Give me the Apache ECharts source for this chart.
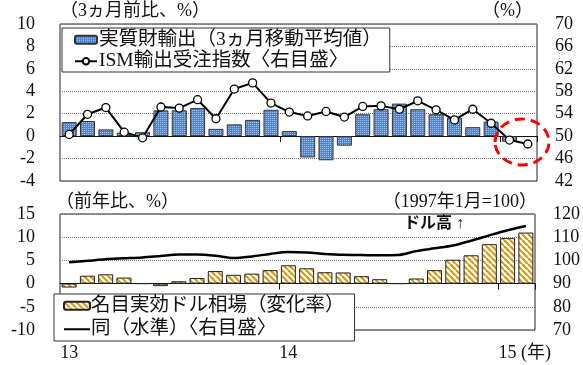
<!DOCTYPE html>
<html>
<head>
<meta charset="utf-8">
<script src="https://cdn.jsdelivr.net/npm/echarts@6/dist/echarts.min.js"></script>
<style>
  html, body { margin: 0; padding: 0; background: #fff; }
  #chart { width: 583px; height: 365px; }
</style>
</head>
<body>
<div id="chart"></div>
<script>
// months 2013-01 .. 2015-02
var months = [];
for (var y = 2013; y <= 2015; y++) {
    for (var m = 1; m <= 12; m++) {
        if (y === 2015 && m > 2) break;
        months.push(y + '-' + (m < 10 ? '0' + m : m));
    }
}
var yearLabels = ['13', '14', '15'];

// 上段
var realExports = [1.25, 1.35, 0.6, 0.3, 0.35, 2.3, 2.3, 2.5, 0.65, 1.05, 1.45, 2.35, 0.45,
    -1.9, -2.15, -0.85, 1.95, 2.4, 2.9, 2.4, 1.95, 1.65, 0.8, 1.3, -0.5, null];
var ismExport = [50.3, 53.9, 55.1, 50.7, 49.7, 55.2, 55.0, 56.5, 53.1, 58.4, 59.5, 55.9, 54.3,
    53.6, 54.4, 53.4, 55.3, 55.4, 54.8, 56.3, 54.7, 52.9, 54.8, 52.3, 49.3, 48.6];

// 下段
var dollarYoY = [-0.85, 1.7, 2.0, 1.3, 0, -0.55, 0.5, 1.2, 2.7, 1.9, 2.15, 2.9, 3.95,
    3.3, 2.45, 2.4, 1.6, 0.95, 0, 1.1, 2.9, 5.15, 6.1, 8.5, 9.8, 11.0];
var dollarLevel = [99.2, 99.8, 100.5, 100.9, 101.3, 101.9, 102.5, 102.5, 102.0, 101.0, 101.7, 102.8, 103.6,
    103.4, 102.8, 102.4, 102.3, 102.2, 102.3, 104.0, 105.2, 106.4, 108.5, 110.8, 113.0, 114.8];

var serif = '"Liberation Serif", "Noto Sans CJK JP", serif';

function makeHatch() {
    var c = document.createElement('canvas');
    c.width = 6; c.height = 6;
    var ctx = c.getContext('2d');
    ctx.fillStyle = '#fff';
    ctx.fillRect(0, 0, 6, 6);
    ctx.strokeStyle = '#D49B12';
    ctx.lineWidth = 2.2;
    [-6, 0, 6].forEach(function (o) {
        ctx.beginPath();
        ctx.moveTo(o, 0);
        ctx.lineTo(o + 6, 6);
        ctx.stroke();
    });
    return c;
}
function makeDots() {
    var c = document.createElement('canvas');
    c.width = 2; c.height = 2;
    var ctx = c.getContext('2d');
    ctx.fillStyle = '#4F84CF';
    ctx.fillRect(0, 0, 2, 2);
    ctx.fillStyle = '#A3C4EF';
    ctx.fillRect(0, 0, 1, 1);
    return c;
}

var chart = echarts.init(document.getElementById('chart'));

function yearTick(index) {
    return index === 12 || index === 24;
}

var option = {
    animation: false,
    backgroundColor: '#fff',
    grid: [
        { left: 60, right: 46, top: 24, height: 157, show: true, borderColor: '#222', borderWidth: 1 },
        { left: 60, right: 46, top: 214, height: 116, show: true, borderColor: '#222', borderWidth: 1 }
    ],
    xAxis: [
        {
            type: 'category', gridIndex: 0, data: months,
            axisLine: { onZero: true, lineStyle: { color: '#111', width: 1 } },
            axisTick: { show: true, interval: yearTick, length: 6, lineStyle: { color: '#111' } },
            axisLabel: { show: false }
        },
        {
            type: 'category', gridIndex: 1, data: months,
            axisLine: { onZero: true, lineStyle: { color: '#111', width: 1 } },
            axisTick: { show: true, interval: yearTick, length: 6, lineStyle: { color: '#111' } },
            axisLabel: { show: false }
        },
        {
            type: 'category', gridIndex: 1, data: months, position: 'bottom',
            axisLine: { show: false, onZero: false },
            axisTick: { show: false },
            axisLabel: {
                interval: 0, margin: 14, fontFamily: serif, fontSize: 18, color: '#111',
                formatter: function (v, i) { return i % 12 === 0 ? yearLabels[i / 12] : ''; }
            }
        }
    ],
    yAxis: [
        {
            type: 'value', gridIndex: 0, min: -4, max: 10, interval: 2,
            axisLine: { show: false }, axisTick: { show: false },
            axisLabel: { margin: 25, fontFamily: serif, fontSize: 18, color: '#111' },
            splitLine: { lineStyle: { color: '#777', type: 'dotted', width: 1 } }
        },
        {
            type: 'value', gridIndex: 0, min: 42, max: 70, interval: 2, position: 'right',
            axisLine: { show: false }, axisTick: { show: false }, splitLine: { show: false },
            axisLabel: {
                margin: 18, fontFamily: serif, fontSize: 18, color: '#111',
                formatter: function (v) { return (v - 42) % 4 === 0 ? String(v) : ''; }
            }
        },
        {
            type: 'value', gridIndex: 1, min: -10, max: 15, interval: 5,
            axisLine: { show: false }, axisTick: { show: false },
            axisLabel: { margin: 25, fontFamily: serif, fontSize: 18, color: '#111' },
            splitLine: { lineStyle: { color: '#777', type: 'dotted', width: 1 } }
        },
        {
            type: 'value', gridIndex: 1, min: 70, max: 120, interval: 10, position: 'right',
            axisLine: { show: false }, axisTick: { show: false }, splitLine: { show: false },
            axisLabel: { margin: 18, fontFamily: serif, fontSize: 18, color: '#111' }
        }
    ],
    legend: [
        {
            orient: 'vertical', left: 62, top: 28,
            data: ['実質財輸出（3ヵ月移動平均値）', 'ISM輸出受注指数〈右目盛〉'],
            backgroundColor: '#fff', borderColor: '#333', borderWidth: 1,
            padding: [2, 8, 1, 12], itemGap: 2, itemWidth: 22, itemHeight: 8,
            textStyle: { fontFamily: serif, fontSize: 19.5, color: '#111', padding: [0, 0, 0, -3] }
        },
        {
            orient: 'vertical', left: 54, top: 294,
            data: [
                '名目実効ドル相場（変化率）',
                { name: '同（水準）〈右目盛〉', itemStyle: { opacity: 0 } }
            ],
            backgroundColor: '#fff', borderColor: '#333', borderWidth: 1,
            padding: [2, 10, 2, 9], itemGap: 4, itemWidth: 26, itemHeight: 8,
            textStyle: { fontFamily: serif, fontSize: 19.5, color: '#111', padding: [0, 0, 0, -4] }
        }
    ],
    series: [
        {
            name: '実質財輸出（3ヵ月移動平均値）', type: 'bar',
            xAxisIndex: 0, yAxisIndex: 0, data: realExports,
            barWidth: 15,
            itemStyle: { color: { image: makeDots(), repeat: 'repeat' }, borderColor: '#333', borderWidth: 1 }
        },
        {
            name: 'ISM輸出受注指数〈右目盛〉', type: 'line',
            xAxisIndex: 0, yAxisIndex: 1, data: ismExport,
            symbol: 'circle', symbolSize: 8,
            lineStyle: { color: '#000', width: 2 },
            itemStyle: { color: '#fff', borderColor: '#000', borderWidth: 1.3 },
            z: 3
        },
        {
            name: '名目実効ドル相場（変化率）', type: 'bar',
            xAxisIndex: 1, yAxisIndex: 2, data: dollarYoY,
            barWidth: 15,
            itemStyle: { color: { image: makeHatch(), repeat: 'repeat' }, borderColor: '#222', borderWidth: 1 }
        },
        {
            name: '同（水準）〈右目盛〉', type: 'line',
            xAxisIndex: 1, yAxisIndex: 3, data: dollarLevel,
            symbol: 'none', smooth: 0.3,
            lineStyle: { color: '#000', width: 2.5 },
            itemStyle: { color: '#000' },
            z: 3
        }
    ],
    graphic: [
        { type: 'text', left: 60, top: 2, style: { text: '（3ヵ月前比、%）', font: '18px ' + serif, fill: '#111' } },
        { type: 'text', right: 50, top: 2, style: { text: '（%）', font: '18px ' + serif, fill: '#111' } },
        { type: 'text', left: 56, top: 193, style: { text: '（前年比、%）', font: '18px ' + serif, fill: '#111' } },
        { type: 'text', right: 46, top: 193, style: { text: '（1997年1月=100）', font: '18px ' + serif, fill: '#111' } },
        { type: 'text', left: 404, top: 216, style: { text: 'ドル高 ↑', font: 'bold 16px ' + serif, fill: '#111' } },
        { type: 'text', left: 521, top: 344, style: { text: '(年)', font: '18px ' + serif, fill: '#111' } },
        {
            type: 'ellipse', shape: { cx: 522, cy: 142, rx: 27, ry: 23 }, z: 100,
            style: { fill: 'none', stroke: '#FF0000', lineWidth: 3, lineDash: [10, 6] }
        }
    ]
};

chart.setOption(option);
</script>
</body>
</html>
